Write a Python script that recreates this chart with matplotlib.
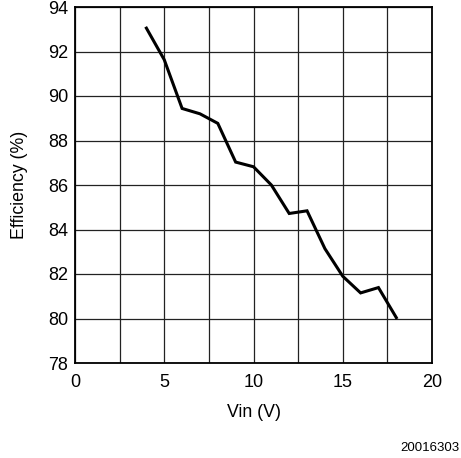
import matplotlib
matplotlib.use("Agg")
import matplotlib.pyplot as plt
import numpy as np

# efficiency vs input voltage
vin = [4, 5, 6, 7, 8, 9, 10, 11, 12, 13, 14, 15, 16, 17, 18]
efficiency = [93.05, 91.63, 89.44, 89.2, 88.77, 87.03, 86.82, 86.0, 84.72, 84.84, 83.14, 81.9, 81.15, 81.39, 80.04]

x_ticks = [0, 5, 10, 15, 20]
y_ticks = [78, 80, 82, 84, 86, 88, 90, 92, 94]

plt.rcParams['font.family'] = ['Liberation Sans', 'DejaVu Sans']

fig = plt.figure(figsize=(4.61, 4.58), dpi=100)
ax = fig.add_axes([75 / 461, 1 - 363 / 458, 357 / 461, 356 / 458])

ax.plot(vin, efficiency, color='black', linewidth=2.2, solid_joinstyle='miter')

ax.set_xlim(0, 20)
ax.set_ylim(78, 94)
ax.set_xticks(x_ticks)
ax.set_xticks(np.arange(0, 20.1, 2.5), minor=True)
ax.set_yticks(y_ticks)
ax.grid(True, which='both', color='#222222', linewidth=0.9)
ax.tick_params(which='both', length=0, labelsize=13, colors='black')
ax.tick_params(axis='x', pad=8)
ax.tick_params(axis='y', pad=5)
for s in ax.spines.values():
    s.set_linewidth(1.3)
    s.set_color('black')

ax.set_xlabel("Vin (V)", fontsize=12.8, labelpad=9)
ax.set_ylabel("Efficiency (%)", fontsize=12.8, labelpad=14)

fig.text(459 / 461, 1 - 448 / 458, "20016303", ha='right', va='center', fontsize=9.5)

fig.savefig("out.png", dpi=100)
